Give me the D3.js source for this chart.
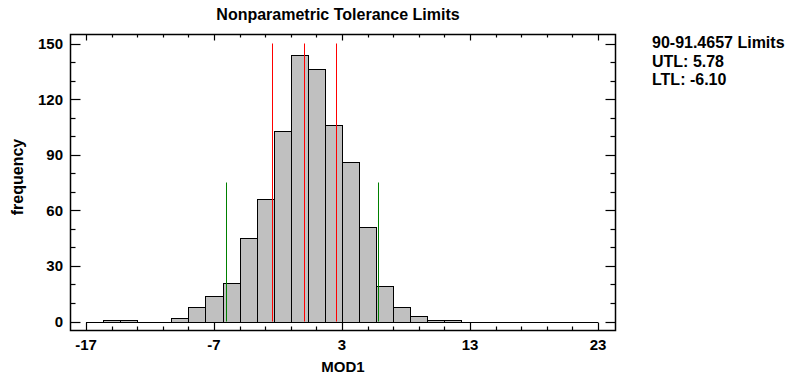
<!DOCTYPE html>
<html><head><meta charset="utf-8">
<script src="https://cdn.jsdelivr.net/npm/d3@7"></script>
<style>body{margin:0;background:#fff}svg text{font-family:"Liberation Sans",Arial,sans-serif;font-weight:bold;font-size:15px;fill:#000}</style>
</head><body><svg id="c" width="787" height="378"></svg>
<script>
const title = "Nonparametric Tolerance Limits";
const xLabel = "MOD1";
const yLabel = "frequency";
const binEdges = [-17,-15.667,-14.333,-13,-11.667,-10.333,-9,-7.667,-6.333,-5,-3.667,-2.333,-1,0.333,1.667,3,4.333,5.667,7,8.333,9.667,11,12.333,13.667,15,16.333,17.667,19,20.333,21.667,23];
const counts = [0,1,1,0,0,2,8,14,21,45,66,103,144,136,106,86,51,19,8,3,1,1,0,0,0,0,0,0,0,0];
const xTicks = [-17,-7,3,13,23];
const yTicks = [0,30,60,90,120,150];
const redLines = [-2.47,0.06,2.55];
const greenLines = [-6.10,5.78];
const redTop = 150, greenTop = 75;
const legendLines = ["90-91.4657 Limits","UTL: 5.78","LTL: -6.10"];

const svg = d3.select("#c");
const L=70.5, R=615.5, T=34.5, B=330.5;
const x = d3.scaleLinear().domain([-17,23]).range([86,598]);
const y = d3.scaleLinear().domain([0,150]).range([321.5,43.5]);

const bins = counts.map((c,i)=>({x0:binEdges[i],x1:binEdges[i+1],c})).filter(d=>d.c>0);
svg.append("g").selectAll("rect").data(bins).join("rect")
  .attr("x",d=>Math.round(x(d.x0))+0.5).attr("width",d=>Math.round(x(d.x1))-Math.round(x(d.x0)))
  .attr("y",d=>Math.round(y(d.c))+0.5).attr("height",d=>Math.round(y(0))-Math.round(y(d.c)))
  .attr("fill","#c0c0c0").attr("stroke","#000").attr("stroke-width",1);

svg.append("line").attr("x1",x(-17)).attr("x2",x(23)).attr("y1",Math.round(y(0))+0.5).attr("y2",Math.round(y(0))+0.5)
  .attr("stroke","#000").attr("stroke-width",1);

svg.append("g").selectAll("line").data(redLines).join("line")
  .attr("x1",d=>Math.round(x(d))+0.5).attr("x2",d=>Math.round(x(d))+0.5)
  .attr("y1",y(0)).attr("y2",y(redTop)).attr("stroke","#ff0000").attr("stroke-width",1);
svg.append("g").selectAll("line").data(greenLines).join("line")
  .attr("x1",d=>Math.round(x(d))+0.5).attr("x2",d=>Math.round(x(d))+0.5)
  .attr("y1",y(0)).attr("y2",y(greenTop)).attr("stroke","#008000").attr("stroke-width",1);

svg.append("rect").attr("x",L).attr("y",T).attr("width",R-L).attr("height",B-T)
  .attr("fill","none").attr("stroke","#000").attr("stroke-width",1.5);

const xMinor = d3.range(-17,23.01,2);
const yMinor = d3.range(0,150.01,10);
const tg = svg.append("g").attr("stroke","#000").attr("stroke-width",1.2);
xMinor.forEach(v=>{
  const major = xTicks.includes(v);
  const px = Math.round(x(v))+0.5;
  tg.append("line").attr("x1",px).attr("x2",px).attr("y1",B).attr("y2",B-(major?8:4));
  tg.append("line").attr("x1",px).attr("x2",px).attr("y1",T).attr("y2",T+(major?6:3));
});
yMinor.forEach(v=>{
  const major = yTicks.includes(v);
  const py = Math.round(y(v))+0.5;
  tg.append("line").attr("x1",L).attr("x2",L+(major?10:5)).attr("y1",py).attr("y2",py);
  tg.append("line").attr("x1",R).attr("x2",R-(major?10:5)).attr("y1",py).attr("y2",py);
});

svg.append("g").selectAll("text").data(xTicks).join("text")
  .attr("x",d=>x(d)).attr("y",350).attr("text-anchor","middle").text(d=>d);
svg.append("g").selectAll("text").data(yTicks).join("text")
  .attr("x",63).attr("y",d=>y(d)+5.5).attr("text-anchor","end").text(d=>d);

svg.append("text").attr("x",338).attr("y",20).attr("text-anchor","middle").style("font-size","16px").text(title);
svg.append("text").attr("x",343).attr("y",372).attr("text-anchor","middle").text(xLabel);
svg.append("text").attr("transform","translate(22.5,177) rotate(-90)").attr("text-anchor","middle").style("font-size","16px").text(yLabel);

svg.append("g").selectAll("text").data(legendLines).join("text")
  .attr("x",652).attr("y",(d,i)=>48.3+i*18.4).style("font-size","16px").text(d=>d);
</script></body></html>
